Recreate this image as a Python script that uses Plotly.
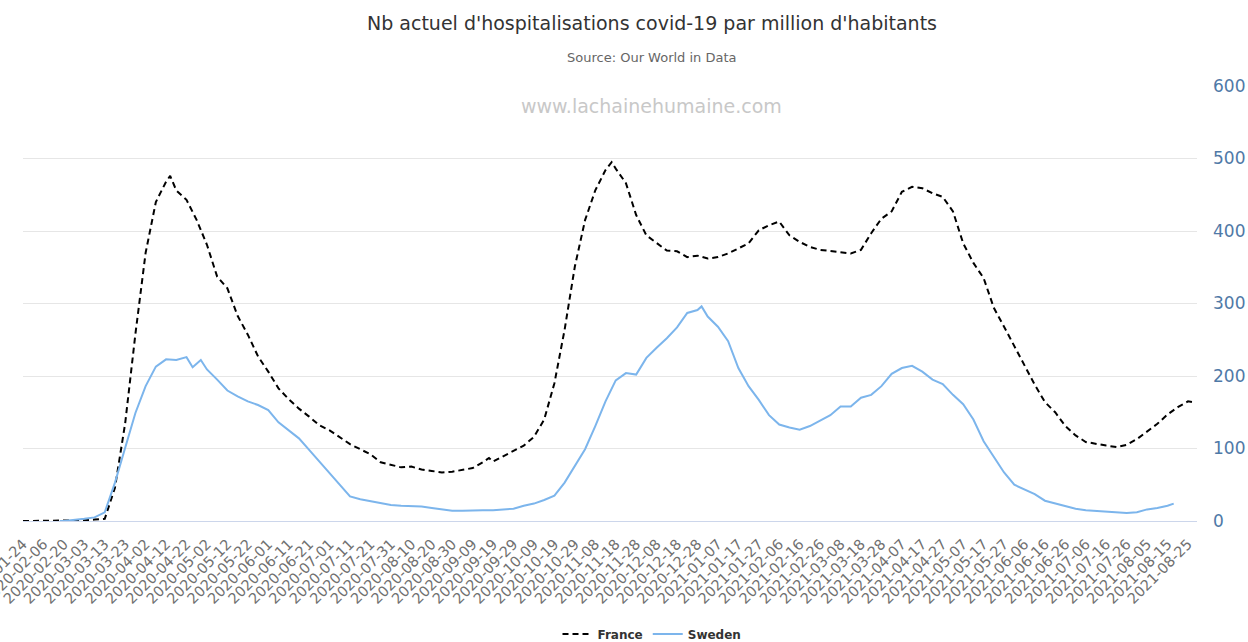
import pandas as pd
import plotly.graph_objects as go

# Category axis (dates present in the source table)
early_dates = ["2020-01-24", "2020-01-25", "2020-01-26", "2020-01-27", "2020-01-28",
               "2020-01-29", "2020-01-30", "2020-01-31", "2020-02-01", "2020-02-02",
               "2020-02-06", "2020-02-07", "2020-02-08", "2020-02-09", "2020-02-10",
               "2020-02-11", "2020-02-12", "2020-02-13", "2020-02-14", "2020-02-15",
               "2020-02-20", "2020-02-21", "2020-02-22", "2020-02-23", "2020-02-24",
               "2020-02-25", "2020-02-26", "2020-02-27", "2020-02-28", "2020-02-29"]
daily_dates = [d.strftime("%Y-%m-%d") for d in pd.date_range("2020-03-03", "2021-08-29")]
categories = early_dates + daily_dates
tick_labels = categories[::10]

france_dates = [
    "2020-01-24", "2020-02-06", "2020-02-20", "2020-03-03", "2020-03-08", "2020-03-13",
    "2020-03-18", "2020-03-23", "2020-03-28", "2020-04-02", "2020-04-07", "2020-04-12",
    "2020-04-14", "2020-04-17", "2020-04-22", "2020-04-27", "2020-05-02", "2020-05-07",
    "2020-05-12", "2020-05-17", "2020-05-22", "2020-05-27", "2020-06-01", "2020-06-06",
    "2020-06-11", "2020-06-16", "2020-06-21", "2020-06-26", "2020-07-01", "2020-07-06",
    "2020-07-11", "2020-07-16", "2020-07-21", "2020-07-26", "2020-07-31", "2020-08-05",
    "2020-08-10", "2020-08-15", "2020-08-20", "2020-08-25", "2020-08-30", "2020-09-04",
    "2020-09-09", "2020-09-14", "2020-09-17", "2020-09-19", "2020-09-24", "2020-09-29",
    "2020-10-04", "2020-10-09", "2020-10-14", "2020-10-19", "2020-10-24", "2020-10-29",
    "2020-11-03", "2020-11-08", "2020-11-13", "2020-11-16", "2020-11-18", "2020-11-23",
    "2020-11-28", "2020-12-03", "2020-12-08", "2020-12-13", "2020-12-18", "2020-12-23",
    "2020-12-28", "2021-01-02", "2021-01-07", "2021-01-12", "2021-01-17", "2021-01-22",
    "2021-01-27", "2021-02-01", "2021-02-06", "2021-02-11", "2021-02-16", "2021-02-21",
    "2021-02-26", "2021-03-03", "2021-03-08", "2021-03-13", "2021-03-18", "2021-03-23",
    "2021-03-28", "2021-04-02", "2021-04-07", "2021-04-12", "2021-04-17", "2021-04-22",
    "2021-04-27", "2021-05-02", "2021-05-07", "2021-05-12", "2021-05-17", "2021-05-22",
    "2021-05-27", "2021-06-01", "2021-06-06", "2021-06-11", "2021-06-16", "2021-06-21",
    "2021-06-26", "2021-07-01", "2021-07-06", "2021-07-11", "2021-07-16", "2021-07-21",
    "2021-07-26", "2021-07-31", "2021-08-05", "2021-08-10", "2021-08-15", "2021-08-20",
    "2021-08-25", "2021-08-27"]
france_values = [
    0, 0, 0, 1, 2, 3,
    46, 135, 258, 370, 440, 468,
    476, 456, 443, 415, 381, 337,
    321, 283, 257, 227, 206, 183,
    168, 155, 144, 132, 125, 116,
    106, 99, 92, 81, 77, 74,
    75, 71, 69, 67, 68, 70,
    73, 81, 87, 82, 89, 96,
    104, 116, 140, 190, 264, 351,
    415, 456, 484, 495, 486, 466,
    422, 394, 383, 373, 372, 364,
    366, 362, 364, 369, 376, 383,
    401, 408, 413, 394, 385, 378,
    374, 372, 370, 369, 374, 397,
    417, 427, 454, 461, 459, 452,
    447, 427, 383, 356, 335, 294,
    268, 241, 214, 188, 164, 150,
    131, 118, 109, 106, 104, 102,
    105, 113, 124, 134, 147, 157,
    165, 164]

sweden_dates = [
    "2020-02-14", "2020-02-20", "2020-03-03", "2020-03-08", "2020-03-13", "2020-03-18",
    "2020-03-23", "2020-03-28", "2020-04-02", "2020-04-07", "2020-04-12", "2020-04-17",
    "2020-04-22", "2020-04-25", "2020-04-29", "2020-05-02", "2020-05-07", "2020-05-12",
    "2020-05-17", "2020-05-22", "2020-05-27", "2020-06-01", "2020-06-06", "2020-06-11",
    "2020-06-16", "2020-06-21", "2020-06-26", "2020-07-01", "2020-07-06", "2020-07-11",
    "2020-07-16", "2020-07-21", "2020-07-26", "2020-07-31", "2020-08-05", "2020-08-10",
    "2020-08-15", "2020-08-20", "2020-08-25", "2020-08-30", "2020-09-04", "2020-09-09",
    "2020-09-14", "2020-09-19", "2020-09-24", "2020-09-29", "2020-10-04", "2020-10-09",
    "2020-10-14", "2020-10-19", "2020-10-24", "2020-10-29", "2020-11-03", "2020-11-08",
    "2020-11-13", "2020-11-18", "2020-11-23", "2020-11-28", "2020-12-03", "2020-12-08",
    "2020-12-13", "2020-12-18", "2020-12-23", "2020-12-28", "2020-12-30", "2021-01-02",
    "2021-01-07", "2021-01-12", "2021-01-17", "2021-01-22", "2021-01-27", "2021-02-01",
    "2021-02-06", "2021-02-11", "2021-02-16", "2021-02-21", "2021-02-26", "2021-03-03",
    "2021-03-08", "2021-03-13", "2021-03-18", "2021-03-23", "2021-03-28", "2021-04-02",
    "2021-04-07", "2021-04-12", "2021-04-17", "2021-04-22", "2021-04-27", "2021-05-02",
    "2021-05-07", "2021-05-12", "2021-05-17", "2021-05-22", "2021-05-27", "2021-06-01",
    "2021-06-06", "2021-06-11", "2021-06-16", "2021-06-21", "2021-06-26", "2021-07-01",
    "2021-07-06", "2021-07-11", "2021-07-16", "2021-07-21", "2021-07-26", "2021-07-31",
    "2021-08-05", "2021-08-10", "2021-08-15", "2021-08-18"]
sweden_values = [
    0, 0, 3, 5, 12, 53,
    101, 149, 186, 213, 223, 222,
    226, 212, 222, 209, 195, 180,
    172, 165, 160, 153, 136, 125,
    114, 98, 82, 65, 49, 34,
    30, 27, 25, 22, 21, 21,
    20, 18, 16, 14, 14, 15,
    15, 15, 16, 17, 21, 24,
    29, 35, 53, 76, 99, 131,
    165, 194, 204, 202, 225, 239,
    252, 267, 287, 291, 296, 282,
    268, 248, 211, 186, 167, 146,
    133, 129, 126, 131, 139, 146,
    158, 158, 170, 174, 186, 203,
    211, 214, 206, 195, 189, 174,
    161, 140, 110, 88, 67, 50,
    44, 37, 28, 24, 21, 17,
    15, 14, 13, 11, 11, 12,
    16, 18, 21, 24]

fig = go.Figure()
fig.add_trace(go.Scatter(
    x=france_dates, y=france_values, name="France", mode="lines",
    line=dict(color="#000000", width=2, dash="6px,4px")))
fig.add_trace(go.Scatter(
    x=sweden_dates, y=sweden_values, name="Sweden", mode="lines",
    line=dict(color="#7cb5ec", width=2)))

font_family = "DejaVu Sans, Verdana, sans-serif"

fig.update_layout(
    width=1248, height=642,
    margin=dict(l=23, r=51, t=86, b=121, autoexpand=False),
    paper_bgcolor="white", plot_bgcolor="white",
    font=dict(family=font_family, color="#333333"),
    title=dict(text="Nb actuel d'hospitalisations covid-19 par million d'habitants",
               x=652 / 1248, xanchor="center", xref="container",
               y=1 - 23 / 642, yanchor="middle", yref="container",
               font=dict(size=19, color="#333333", family=font_family)),
    showlegend=True,
    legend=dict(orientation="h", x=652 / 1248, xref="container", xanchor="center",
                y=1 - 634 / 642, yref="container", yanchor="middle",
                font=dict(size=12, color="#333333", family=font_family, weight="bold"),
                itemwidth=30, tracegroupgap=0, bgcolor="rgba(0,0,0,0)"),
    xaxis=dict(type="category", categoryorder="array", categoryarray=categories,
               range=[0, 574.4], tickmode="array", tickvals=tick_labels,
               ticktext=tick_labels, tickangle=-45, showgrid=False,
               showline=True, linecolor="#ccd6eb", linewidth=1, ticks="",
               ticklabelstandoff=8,
               tickfont=dict(size=14.5, color="#707070", family=font_family),
               automargin=False, zeroline=False),
    yaxis=dict(side="right", range=[0, 600], tickmode="array",
               tickvals=[0, 100, 200, 300, 400, 500, 600],
               showgrid=True, gridcolor="#e6e6e6", gridwidth=1, zeroline=False,
               showline=False, ticks="", ticklabelstandoff=15,
               tickfont=dict(size=17, color="#4f79a7", family=font_family),
               automargin=False),
    annotations=[
        dict(text="Source: Our World in Data", x=(652 - 23) / 1174, xref="paper",
             y=(521 - 58) / 435, yref="paper", xanchor="center", yanchor="middle",
             showarrow=False, font=dict(size=13, color="#666666", family=font_family)),
        dict(text="www.lachainehumaine.com", x=(651 - 23) / 1174, xref="paper",
             y=(521 - 106) / 435, yref="paper", xanchor="center", yanchor="middle",
             showarrow=False, font=dict(size=19, color="#c8c8c8", family=font_family)),
    ],
)

fig.write_html("out.html", config={"displayModeBar": False},
               post_script="document.body.style.margin='0';document.body.style.padding='0';")
